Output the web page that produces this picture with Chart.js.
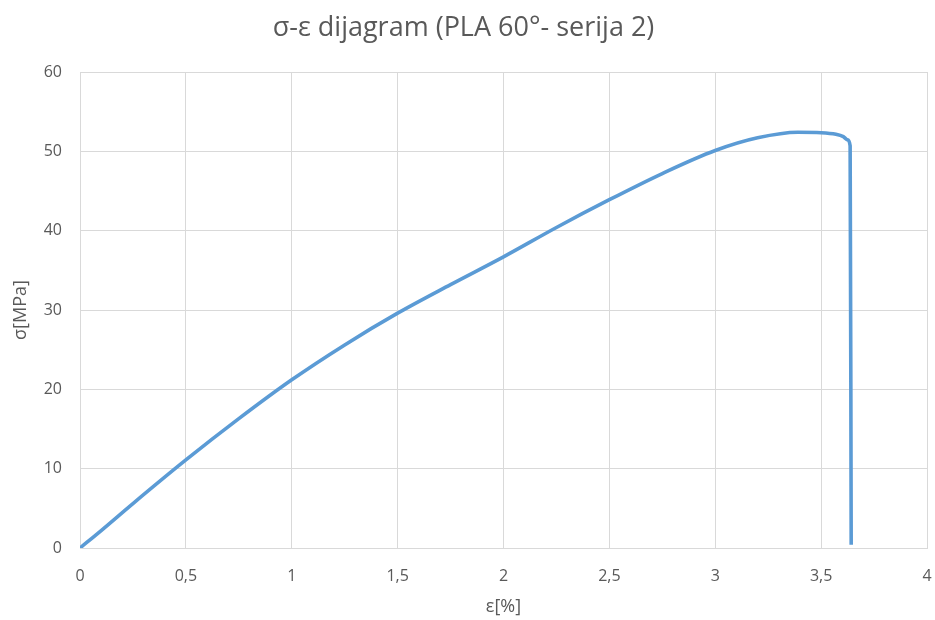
<!DOCTYPE html>
<html>
<head>
<meta charset="utf-8">
<script src="https://cdn.jsdelivr.net/npm/chart.js@4/dist/chart.umd.min.js"></script>
<style>
  html, body { margin: 0; padding: 0; background: #fff; }
  #wrap { width: 935px; height: 620px; }
</style>
</head>
<body>
<div id="wrap"><canvas id="sigmaEps"></canvas></div>
<script>
  // strain [%] and stress [MPa]
  const strain = [0, 0.1, 0.25, 0.5, 0.75, 1, 1.25, 1.5, 1.75, 2, 2.25, 2.5, 2.75, 3, 3.2, 3.39, 3.5, 3.57, 3.605, 3.625, 3.637, 3.642];
  const stress = [0, 2.2, 5.6, 11.1, 16.3, 21.2, 25.6, 29.6, 33.2, 36.7, 40.4, 43.9, 47.2, 50.1, 51.7, 52.4, 52.35, 52.15, 51.85, 51.45, 50.7, 0.4];
  const xTickLabels = ['0', '0,5', '1', '1,5', '2', '2,5', '3', '3,5', '4'];
  const yTickLabels = ['0', '10', '20', '30', '40', '50', '60'];

  const txt = '#595959';
  const gridCol = '#d9d9d9';
  const font = 'Open Sans, sans-serif';

  const ctx = document.getElementById('sigmaEps').getContext('2d');

  const chart = new Chart(ctx, {
    type: 'line',
    data: {
      datasets: [{
        label: 'PLA 60° serija 2',
        data: strain.map((x, i) => ({ x: x, y: stress[i] })),
        borderColor: '#5b9bd5',
        borderWidth: 3.6,
        pointRadius: 0,
        cubicInterpolationMode: 'monotone',
        fill: false
      }]
    },
    options: {
      responsive: true,
      maintainAspectRatio: false,
      animation: false,
      layout: { padding: { left: 0, right: 8, top: 0, bottom: 0 } },
      plugins: {
        legend: { display: false },
        tooltip: { enabled: false },
        title: {
          display: true,
          text: 'σ-ε dijagram (PLA 60°- serija 2)',
          color: txt,
          font: { family: font, size: 27, weight: 'normal' },
          padding: { top: 11.8, bottom: 27.8 }
        }
      },
      scales: {
        x: {
          type: 'linear',
          min: 0,
          max: 4,
          afterFit: (s) => { s.height = 72; s.paddingRight = 0; s.paddingLeft = 0; },
          ticks: {
            stepSize: 0.5,
            padding: 19,
            color: txt,
            font: { family: font, size: 16 },
            maxRotation: 0,
            callback: (v, i) => xTickLabels[i]
          },
          grid: { color: gridCol, drawTicks: false },
          border: { color: gridCol },
          title: {
            display: true,
            text: 'ε[%]',
            color: txt,
            font: { family: font, size: 18 },
            padding: { top: 0, bottom: 2 }
          }
        },
        y: {
          min: 0,
          max: 60,
          afterFit: (s) => { s.width = 80; },
          ticks: {
            stepSize: 10,
            padding: 18,
            color: txt,
            font: { family: font, size: 16 },
            callback: (v, i) => yTickLabels[i]
          },
          grid: { color: gridCol, drawTicks: false },
          border: { color: gridCol },
          title: {
            display: true,
            text: 'σ[MPa]',
            color: txt,
            font: { family: font, size: 18 },
            padding: { top: 10, bottom: 0 }
          }
        }
      }
    }
  });
</script>
</body>
</html>
